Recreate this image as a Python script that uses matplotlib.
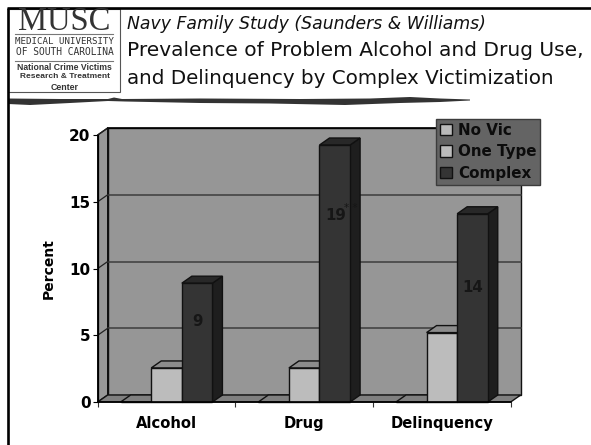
import matplotlib
matplotlib.use('Agg')
import matplotlib.pyplot as plt
from matplotlib.patches import Polygon, Rectangle

W, H = 591, 445

categories = ['Alcohol', 'Drug', 'Delinquency']
series_names = ['No Vic', 'One Type', 'Complex']
no_vic = [0, 0, 0]
one_type = [2.55, 2.55, 5.2]
complex_vic = [8.9, 19.25, 14.1]
value_labels = ['9', '19', '14']
yticks = [0, 5, 10, 15, 20]

# where the labels sit inside the dark bars (y in chart units)
label_y = [6.05, 14.0, 8.6]

# pixel box of the front plane of the chart
LEFT, RIGHT, BASE, TOP = 97.7, 510.7, 402, 135
BAR_W = 1 / 4.5
DX = 10 / ((RIGHT - LEFT) / 3)
DY = 7 / ((BASE - TOP) / 20)

front = {'No Vic': '#b9b9b9', 'One Type': '#bcbcbc', 'Complex': '#343434'}
side = {'No Vic': '#6e6e6e', 'One Type': '#6e6e6e', 'Complex': '#1e1e1e'}
topc = {'No Vic': '#808080', 'One Type': '#8c8c8c', 'Complex': '#282828'}

fig = plt.figure(figsize=(W / 100, H / 100), dpi=100)

# header, frame and logo in pixel coordinates
bg = fig.add_axes([0, 0, 1, 1])
bg.set_xlim(0, W)
bg.set_ylim(H, 0)
bg.axis('off')

bg.plot([7.5, 7.5], [8, H], color='black', lw=1.9, solid_capstyle='butt')
bg.plot([7, W], [8, 8], color='black', lw=1.9, solid_capstyle='butt')
bg.add_patch(Rectangle((8, 9), 112, 83, fc='white', ec='#555555', lw=0.8))

bg.text(64.5, 22, 'MUSC', family='Liberation Serif', fontsize=23.5, ha='center',
        va='center', color='#333333')
bg.plot([15, 113], [33.5, 33.5], color='#777777', lw=0.8)
bg.text(64.5, 41, 'MEDICAL UNIVERSITY', family='DejaVu Sans Mono', fontsize=6.6,
        ha='center', va='center', color='#333333')
bg.text(64.5, 52, 'OF SOUTH CAROLINA', family='DejaVu Sans Mono', fontsize=6.9,
        ha='center', va='center', color='#333333')
bg.plot([15, 113], [61, 61], color='#777777', lw=0.8)
bg.text(64.5, 67, 'National Crime Victims', family='Liberation Sans', weight='bold',
        fontsize=6.2, ha='center', va='center', color='#333333')
bg.text(64.5, 77, 'Research & Treatment', family='Liberation Sans', weight='bold',
        fontsize=6.0, ha='center', va='center', color='#333333')
bg.text(64.5, 87, 'Center', family='Liberation Sans', weight='bold',
        fontsize=6.3, ha='center', va='center', color='#333333')

bg.text(127, 24, 'Navy Family Study (Saunders & Williams)', family='DejaVu Sans',
        style='italic', fontsize=12.4, ha='left', va='center', color='#111111')
bg.text(127, 50.5, 'Prevalence of Problem Alcohol and Drug Use,', family='DejaVu Sans',
        fontsize=14.5, ha='left', va='center', color='#111111')
bg.text(127, 78.5, 'and Delinquency by Complex Victimization', family='DejaVu Sans',
        fontsize=14.35, ha='left', va='center', color='#111111')

# brush stroke under the header
stroke_top = [(8, 98.5), (60, 99), (108, 99), (114, 97.5), (122, 99), (200, 98.5),
              (300, 99), (370, 98.5), (410, 97), (440, 98.5), (470, 99.5)]
stroke_bot = [(470, 100.5), (440, 102), (400, 103), (345, 105), (270, 103.5), (200, 103),
              (125, 101.5), (108, 101), (70, 103), (30, 105), (8, 104)]
bg.add_patch(Polygon(stroke_top + stroke_bot, fc='#333333', ec='none'))

# chart
ax = fig.add_axes([LEFT / W, 1 - BASE / H, (RIGHT - LEFT) / W, (BASE - TOP) / H])
ax.set_xlim(0, 3)
ax.set_ylim(0, 20)
ax.patch.set_alpha(0)


def poly(points, fc, ec='#111111', lw=1.0, z=1):
    ax.add_patch(Polygon(points, closed=True, fc=fc, ec=ec, lw=lw, zorder=z,
                         clip_on=False, joinstyle='miter'))


# back wall, left wall and floor
poly([(DX, DY), (3 + DX, DY), (3 + DX, 20 + DY), (DX, 20 + DY)], '#969696', z=1)
poly([(0, 0), (DX, DY), (DX, 20 + DY), (0, 20)], '#989898', z=1)
poly([(0, 0), (3, 0), (3 + DX, DY), (DX, DY)], '#808080', z=1.2)
for v in yticks[1:-1]:
    ax.plot([DX, 3 + DX], [v + DY, v + DY], color='#3c3c3c', lw=1.1, zorder=1.1,
            clip_on=False)
    ax.plot([0, DX], [v, v + DY], color='#222222', lw=0.9, zorder=1.1, clip_on=False)
ax.plot([0, DX], [20, 20 + DY], color='#222222', lw=0.9, zorder=1.1, clip_on=False)
ax.plot([DX, 3 + DX], [20 + DY, 20 + DY], color='black', lw=1.2, zorder=1.1, clip_on=False)

handles = []
for k, (name, vals) in enumerate(zip(series_names, [no_vic, one_type, complex_vic])):
    z = 2 + k
    xs = [i + 0.5 + (k - 1) * BAR_W for i in range(len(categories))]
    b = ax.bar(xs, vals, width=BAR_W, color=front[name], edgecolor='#111111',
               linewidth=1.0, zorder=z + 0.5, clip_on=False, label=name)
    handles.append(b)
    for x, v in zip(xs, vals):
        x0, x1 = x - BAR_W / 2, x + BAR_W / 2
        poly([(x1, 0), (x1 + DX, DY), (x1 + DX, v + DY), (x1, v)], side[name], z=z)
        poly([(x0, v), (x1, v), (x1 + DX, v + DY), (x0 + DX, v + DY)], topc[name], z=z)

for i, (s, y) in enumerate(zip(value_labels, label_y)):
    ax.text(i + 0.5 + BAR_W + 0.005, y, s, ha='center', va='center', weight='bold',
            fontsize=10.8, color='#161616', zorder=8)
ax.text(1.5 + BAR_W * 1.5 + 0.005, 14.55, '* *', ha='center', va='center', fontsize=7.5,
        color='#161616', zorder=8)

for s in ['top', 'right']:
    ax.spines[s].set_visible(False)
for s in ['left', 'bottom']:
    ax.spines[s].set_linewidth(1.2)
    ax.spines[s].set_zorder(7)
ax.spines['left'].set_linewidth(0.9)

ax.set_yticks(yticks)
ax.set_yticklabels([str(v) for v in yticks], weight='bold', fontsize=11)
ax.tick_params(axis='y', length=3.6, width=0.8, pad=1.5)
ax.set_xticks([0, 1, 2, 3])
ax.set_xticklabels([])
ax.tick_params(axis='x', length=3.6, width=0.8, color='#333333')
ax.set_xticks([0.5, 1.5, 2.5], labels=categories, minor=True, weight='bold', fontsize=10.6)
ax.tick_params(axis='x', which='minor', length=0, pad=10)
ax.set_ylabel('Percent', weight='bold', fontsize=10, labelpad=10)

leg = ax.legend(handles=handles, labels=series_names, loc='upper left',
                bbox_to_anchor=(436 / W, 1 - 119 / H), bbox_transform=fig.transFigure,
                fancybox=False, framealpha=1, facecolor='#646464', edgecolor='#3c3c3c',
                prop={'weight': 'bold', 'size': 10.9}, labelcolor='#0c0c0c',
                borderaxespad=0, borderpad=0.26, handlelength=0.78, handleheight=0.78,
                handletextpad=0.4, labelspacing=0.42)
leg.set_zorder(10)

fig.savefig('out.png', dpi=100, facecolor='white')
